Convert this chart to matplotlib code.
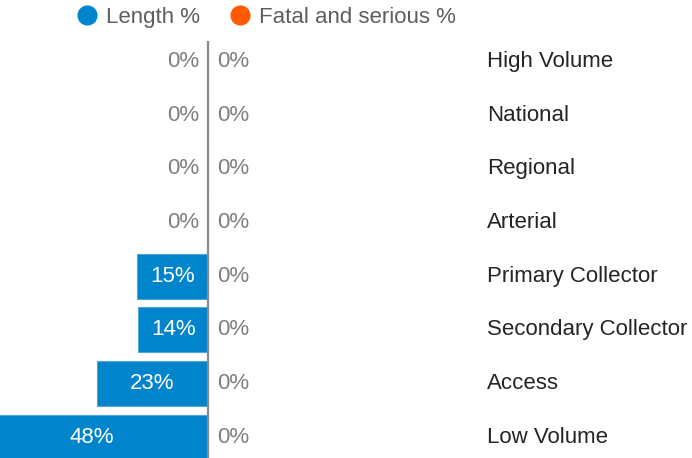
import matplotlib
matplotlib.use("Agg")
import matplotlib.pyplot as plt
from matplotlib.lines import Line2D

categories = ["High Volume", "National", "Regional", "Arterial",
              "Primary Collector", "Secondary Collector", "Access", "Low Volume"]
length_pct = [0, 0, 0, 0, 14.6, 14.4, 23.0, 48.0]
fatal_pct = [0, 0, 0, 0, 0, 0, 0, 0]
series_names = ["Length %", "Fatal and serious %"]

BLUE = "#0084CC"
ORANGE = "#FF5A00"
GRAY_VAL = "#7f7f7f"
DARK = "#252423"
LEG = "#605E5C"
FS = 16

plt.rcParams['font.family'] = ['Liberation Sans', 'DejaVu Sans']

W, H = 692, 458
fig = plt.figure(figsize=(W / 100, H / 100), dpi=100)
top_px = 41
ax = fig.add_axes([0, 0, 1, (H - top_px) / H])

k = 4.83  # px per percent
center_px = 208
ax.set_xlim(-center_px / k, (W - center_px) / k)
row0, step = 61.3, 53.7
ax.set_ylim((H - row0) / step, -(row0 - top_px) / step)

ys = list(range(len(categories)))
ax.barh(ys, [-v for v in length_pct], height=0.836, color=BLUE,
        edgecolor="#4BA6DC", linewidth=0.8)
ax.barh(ys, fatal_pct, height=0.836, color=ORANGE)
ax.axvline(0, color="#8a8a8a", lw=1.6, zorder=5)

for y, v in zip(ys, length_pct):
    lbl = f"{v:.0f}%"
    if v >= 5:
        ax.text(-v / 2, y, lbl, ha="center", va="center", color="white", fontsize=FS)
    else:
        ax.annotate(lbl, (0, y), xytext=(-6.5, 0), textcoords="offset points",
                    ha="right", va="center", color=GRAY_VAL, fontsize=FS)

for y, v in zip(ys, fatal_pct):
    ax.annotate(f"{v:.0f}%", (v, y), xytext=(6.5, 0), textcoords="offset points",
                ha="left", va="center", color=GRAY_VAL, fontsize=FS)

tr = ax.get_yaxis_transform()
for y, c in zip(ys, categories):
    ax.text(487 / W, y, c, transform=tr, ha="left", va="center", color=DARK, fontsize=FS)

ax.axis("off")

handles = [Line2D([], [], marker="o", ls="none", markersize=13.5, color=BLUE),
           Line2D([], [], marker="o", ls="none", markersize=13.5, color=ORANGE)]
leg = fig.legend(handles, series_names, loc="center", bbox_to_anchor=(266.5 / W, 1 - 17.5 / H),
                 ncol=2, frameon=False, fontsize=FS, handlelength=0.85, handletextpad=0.45,
                 columnspacing=1.35, borderpad=0, borderaxespad=0)
for t in leg.get_texts():
    t.set_color(LEG)

fig.savefig("out.png", dpi=100)
